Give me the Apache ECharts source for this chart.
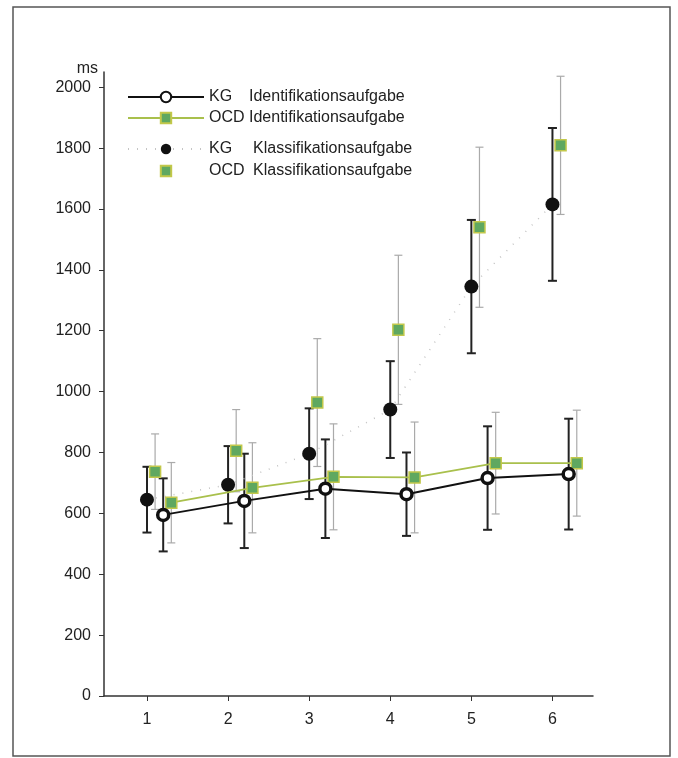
<!DOCTYPE html>
<html>
<head>
<meta charset="utf-8">
<script src="https://cdn.jsdelivr.net/npm/echarts@6/dist/echarts.min.js"></script>
<style>
  html, body { margin: 0; padding: 0; background: #fff; }
  #main { width: 678px; height: 758px; }
</style>
</head>
<body>
<div id="main"></div>
<script>
const categories = [1, 2, 3, 4, 5, 6];
const yTicks = [0, 200, 400, 600, 800, 1000, 1200, 1400, 1600, 1800, 2000];

const kgIdent = [595, 641, 681, 663, 716, 729];
const kgIdentSd = [120, 155, 162, 137, 170, 182];
const ocdIdent = [635, 684, 720, 718, 765, 765];
const ocdIdentSd = [132, 148, 174, 182, 167, 174];
const kgKlass = [645, 694, 796, 941, 1345, 1615];
const kgKlassSd = [108, 127, 149, 159, 219, 251];
const ocdKlass = [737, 806, 964, 1203, 1540, 1809];
const ocdKlassSd = [124, 135, 210, 245, 263, 227];

const names = [
  'KG Identifikationsaufgabe',
  'OCD Identifikationsaufgabe',
  'KG Klassifikationsaufgabe',
  'OCD Klassifikationsaufgabe'
];

const chart = echarts.init(document.getElementById('main'));
const font = 'Liberation Sans, Arial, sans-serif';

function pts(vals, off) {
  return vals.map((v, i) => [categories[i] + off, v]);
}
function bars(vals, sd, off) {
  return vals.map((v, i) => [categories[i] + off, v - sd[i], v + sd[i]]);
}

function errorBars(color, width, cap) {
  return function (params, api) {
    const x = api.value(0);
    const lo = api.coord([x, api.value(1)]);
    const hi = api.coord([x, api.value(2)]);
    const style = { stroke: color, lineWidth: width };
    return {
      type: 'group',
      children: [
        { type: 'line', shape: { x1: lo[0], y1: lo[1], x2: hi[0], y2: hi[1] }, style: style },
        { type: 'line', shape: { x1: lo[0] - cap, y1: lo[1], x2: lo[0] + cap, y2: lo[1] }, style: style },
        { type: 'line', shape: { x1: hi[0] - cap, y1: hi[1], x2: hi[0] + cap, y2: hi[1] }, style: style }
      ]
    };
  };
}

function legendText(w) {
  return {
    fontFamily: font,
    fontSize: 16,
    lineHeight: 14,
    color: '#222',
    rich: {
      a: { fontFamily: font, fontSize: 16, lineHeight: 14, color: '#222', width: w },
      b: { fontFamily: font, fontSize: 16, lineHeight: 14, color: '#222' }
    }
  };
}
function legendFmt(n) {
  const p = n.split(' ');
  return '{a|' + p[0] + '}{b|' + p[1] + '}';
}

const option = {
  animation: false,
  backgroundColor: '#fff',
  graphic: [{
    type: 'rect',
    shape: { x: 13, y: 7, width: 657, height: 749 },
    style: { fill: 'none', stroke: '#555', lineWidth: 1.5 },
    z: -1
  }],
  legend: [
    {
      data: [names[0], names[1]],
      orient: 'vertical',
      left: 122, top: 84,
      itemWidth: 76, itemHeight: 13, itemGap: 5,
      formatter: legendFmt,
      textStyle: legendText(40)
    },
    {
      data: [names[2], names[3]],
      orient: 'vertical',
      left: 122, top: 136,
      itemWidth: 76, itemHeight: 13, itemGap: 6,
      formatter: legendFmt,
      textStyle: legendText(44)
    }
  ],
  grid: { left: 104, right: 85, top: 72, bottom: 62 },
  xAxis: {
    type: 'value',
    min: 0.47, max: 6.5,
    splitLine: { show: false },
    axisLine: { lineStyle: { color: '#333', width: 1.5 } },
    axisTick: { customValues: categories, length: 5, lineStyle: { color: '#333' } },
    axisLabel: {
      customValues: categories,
      margin: 16,
      fontFamily: font, fontSize: 16, color: '#222'
    }
  },
  yAxis: {
    type: 'value',
    min: 0, max: 2050,
    name: 'ms',
    nameLocation: 'end',
    nameGap: 3,
    nameTextStyle: { fontFamily: font, fontSize: 16, color: '#222', align: 'right', verticalAlign: 'middle', padding: [0, 6, 0, 0] },
    splitLine: { show: false },
    axisLine: { show: true, lineStyle: { color: '#333', width: 1.5 } },
    axisTick: { show: true, customValues: yTicks, length: 5, lineStyle: { color: '#333' } },
    axisLabel: {
      customValues: yTicks,
      formatter: v => String(v),
      margin: 13,
      fontFamily: font, fontSize: 16, color: '#222'
    }
  },
  series: [
    // Fehlerbalken
    { type: 'custom', renderItem: errorBars('#aaa', 1.2, 4), data: bars(ocdKlass, ocdKlassSd, 0.1), z: 1, silent: true },
    { type: 'custom', renderItem: errorBars('#aaa', 1.2, 4), data: bars(ocdIdent, ocdIdentSd, 0.3), z: 1, silent: true },
    { type: 'custom', renderItem: errorBars('#222', 2, 4.5), data: bars(kgKlass, kgKlassSd, 0), z: 2, silent: true },
    { type: 'custom', renderItem: errorBars('#222', 2, 4.5), data: bars(kgIdent, kgIdentSd, 0.2), z: 2, silent: true },
    {
      name: names[2],
      type: 'line',
      data: pts(kgKlass, 0),
      symbol: 'circle',
      symbolSize: 14,
      lineStyle: { color: '#c4c4c4', width: 1.5, type: [1, 8] },
      itemStyle: { color: '#111' },
      z: 3
    },
    {
      name: names[3],
      type: 'line',
      data: pts(ocdKlass, 0.1),
      symbol: 'rect',
      symbolSize: 11,
      lineStyle: { opacity: 0, width: 0 },
      itemStyle: { color: '#5fa860', borderColor: '#c2c84a', borderWidth: 1.5 },
      z: 4
    },
    {
      name: names[0],
      type: 'line',
      data: pts(kgIdent, 0.2),
      symbol: 'circle',
      symbolSize: 11,
      lineStyle: { color: '#111', width: 2 },
      itemStyle: { color: '#fff', borderColor: '#111', borderWidth: 3.5 },
      z: 5
    },
    {
      name: names[1],
      type: 'line',
      data: pts(ocdIdent, 0.3),
      symbol: 'rect',
      symbolSize: 11,
      lineStyle: { color: '#a9c04c', width: 1.8 },
      itemStyle: { color: '#5fa860', borderColor: '#c2c84a', borderWidth: 1.5 },
      z: 4
    }
  ]
};

chart.setOption(option);
</script>
</body>
</html>
